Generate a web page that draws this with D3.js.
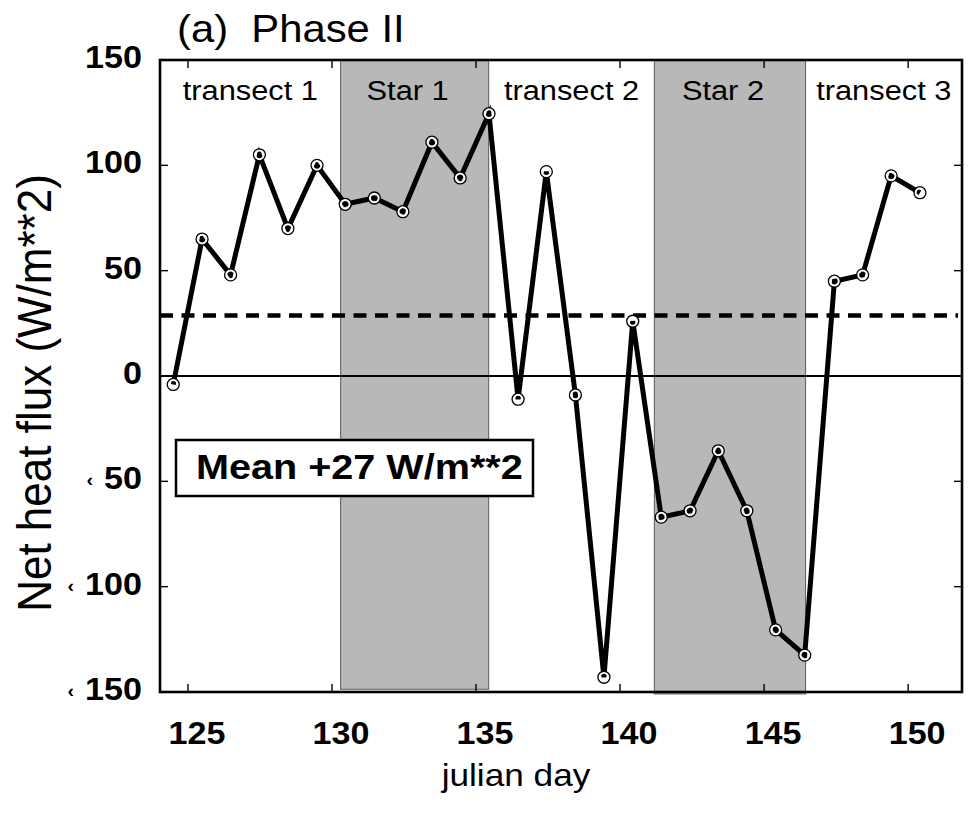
<!DOCTYPE html>
<html>
<head>
<meta charset="utf-8">
<script src="https://cdn.jsdelivr.net/npm/d3@7"></script>
<style>
  html, body { margin: 0; padding: 0; background: #fff; }
  svg { display: block; font-family: "Liberation Sans", Arial, Helvetica, sans-serif; }
</style>
</head>
<body>
<div id="chart"></div>
<script>
// julian day of each sample and net heat flux (W/m**2)
const days = [124.49, 125.49, 126.48, 127.48, 128.47, 129.48, 130.46, 131.47, 132.46,
  133.47, 134.45, 135.45, 136.46, 137.44, 138.45, 139.44, 140.44, 141.43, 142.43,
  143.41, 144.40, 145.40, 146.41, 147.44, 148.42, 149.41, 150.41];
const flux = [-4, 65, 48, 105, 70, 100, 81.5, 84.5, 78,
  111, 94, 124.5, -11, 97, -9, -143, 26, -67, -64,
  -35.5, -64, -120.5, -132.5, 45, 48, 95, 87];

// survey phases
const phaseNames = ["transect 1", "Star 1", "transect 2", "Star 2", "transect 3"];
const phaseStart = [124.03, 130.30, 135.44, 141.19, 146.44];
const phaseEnd = [130.30, 135.44, 141.19, 146.44, 151.87];
const phaseShaded = [false, true, false, true, false];
const phaseBottom = [null, -148.7, null, -150.9, null];

const meanFlux = 28.7;
const meanLabel = "Mean +27 W/m**2";

const xTicks = [125, 130, 135, 140, 145, 150];
const yTicks = [150, 100, 50, 0, -50, -100, -150];

const width = 973, height = 815;
const sx = 1.1; // the figure text is slightly wide

const svg = d3.select("#chart").append("svg")
  .attr("width", width)
  .attr("height", height);

const x = d3.scaleLinear().domain([124.03, 151.87]).range([160, 962]);
const y = d3.scaleLinear().domain([-150, 150]).range([692, 60]);

const place = (sel, px, py) => sel.attr("x", 0).attr("y", 0)
  .attr("transform", `translate(${px},${py}) scale(${sx},1)`);

// shaded star regions
const phases = phaseNames.map((name, i) => ({
  name, start: phaseStart[i], end: phaseEnd[i], shaded: phaseShaded[i], bottom: phaseBottom[i]
}));

svg.append("g").selectAll("rect")
  .data(phases.filter(d => d.shaded))
  .join("rect")
  .attr("x", d => x(d.start))
  .attr("y", y(150))
  .attr("width", d => x(d.end) - x(d.start))
  .attr("height", d => y(d.bottom) - y(150))
  .attr("fill", "#b8b8b8")
  .attr("stroke", "#5a5a5a")
  .attr("stroke-width", 1);

// zero line
svg.append("line")
  .attr("x1", x.range()[0]).attr("x2", x.range()[1])
  .attr("y1", y(0)).attr("y2", y(0))
  .attr("stroke", "#000").attr("stroke-width", 2.2);

// mean line
svg.append("line")
  .attr("x1", x.range()[0]).attr("x2", 958)
  .attr("y1", y(meanFlux)).attr("y2", y(meanFlux))
  .attr("stroke", "#000").attr("stroke-width", 4.5)
  .attr("stroke-dasharray", "13,8.5");

// frame
svg.append("rect")
  .attr("x", x.range()[0]).attr("y", y.range()[1])
  .attr("width", x.range()[1] - x.range()[0])
  .attr("height", y.range()[0] - y.range()[1])
  .attr("fill", "none").attr("stroke", "#000").attr("stroke-width", 2.6);

// inward ticks on all four sides
const ticks = svg.append("g").attr("stroke", "#000").attr("stroke-width", 1.4);
xTicks.forEach(t => {
  ticks.append("line").attr("x1", x(t)).attr("x2", x(t)).attr("y1", y(-150)).attr("y2", y(-150) - 8);
  ticks.append("line").attr("x1", x(t)).attr("x2", x(t)).attr("y1", y(150)).attr("y2", y(150) + 8);
});
yTicks.forEach(t => {
  ticks.append("line").attr("x1", x.range()[0]).attr("x2", x.range()[0] + 8).attr("y1", y(t)).attr("y2", y(t));
  ticks.append("line").attr("x1", x.range()[1]).attr("x2", x.range()[1] - 8).attr("y1", y(t)).attr("y2", y(t));
});

// tick labels
svg.append("g").selectAll("text")
  .data(xTicks)
  .join("text")
  .each(function (d) { place(d3.select(this), x(d) + 9, 744); })
  .attr("text-anchor", "middle")
  .attr("font-size", 31)
  .attr("font-weight", 700)
  .text(d => d);

svg.append("g").selectAll("text")
  .data(yTicks)
  .join("text")
  .each(function (d) {
    const t = d3.select(this);
    place(t, 142, y(d) + 8);
    t.attr("text-anchor", "end").attr("font-size", 31).attr("font-weight", 700);
    if (d < 0) {
      t.append("tspan").attr("font-size", 18).attr("dy", -3).text("\u2039");
      t.append("tspan").attr("dx", 10).attr("dy", 3).text(Math.abs(d));
    } else {
      t.text(d);
    }
  });

// axis titles
svg.append("text")
  .attr("transform", `translate(51,393) scale(${sx},1) rotate(-90)`)
  .attr("text-anchor", "middle")
  .attr("font-size", 44)
  .text("Net heat flux (W/m**2)");

place(svg.append("text"), 516, 786)
  .attr("text-anchor", "middle")
  .attr("font-size", 32)
  .text("julian day");

place(svg.append("text"), 177, 42)
  .attr("font-size", 38)
  .style("white-space", "pre")
  .text("(a)  Phase II");

// phase labels
svg.append("g").selectAll("text")
  .data(phases)
  .join("text")
  .each(function (d) { place(d3.select(this), x((d.start + d.end) / 2) - (d.shaded ? 7 : 0), 100); })
  .attr("text-anchor", "middle")
  .attr("font-size", 28)
  .text(d => d.name);

// flux series
const line = d3.line().x(d => x(d[0])).y(d => y(d[1]));
const pts = days.map((d, i) => [d, flux[i]]);

svg.append("path")
  .datum(pts)
  .attr("d", line)
  .attr("fill", "none")
  .attr("stroke", "#000")
  .attr("stroke-width", 5)
  .attr("stroke-linejoin", "miter");

const markers = svg.append("g").selectAll("g")
  .data(pts)
  .join("g")
  .attr("transform", d => `translate(${x(d[0])},${y(d[1])})`);
markers.append("circle").attr("r", 4.6).attr("fill", "none").attr("stroke", "#fff").attr("stroke-width", 2.4);
markers.append("circle").attr("r", 6).attr("fill", "none").attr("stroke", "#000").attr("stroke-width", 1.3);

// mean legend box
svg.append("rect")
  .attr("x", 176).attr("y", 440)
  .attr("width", 357).attr("height", 56)
  .attr("fill", "#fff").attr("stroke", "#000").attr("stroke-width", 2.5);

place(svg.append("text"), 196, 479)
  .attr("font-size", 36)
  .attr("font-weight", 700)
  .text(meanLabel);
</script>
</body>
</html>
